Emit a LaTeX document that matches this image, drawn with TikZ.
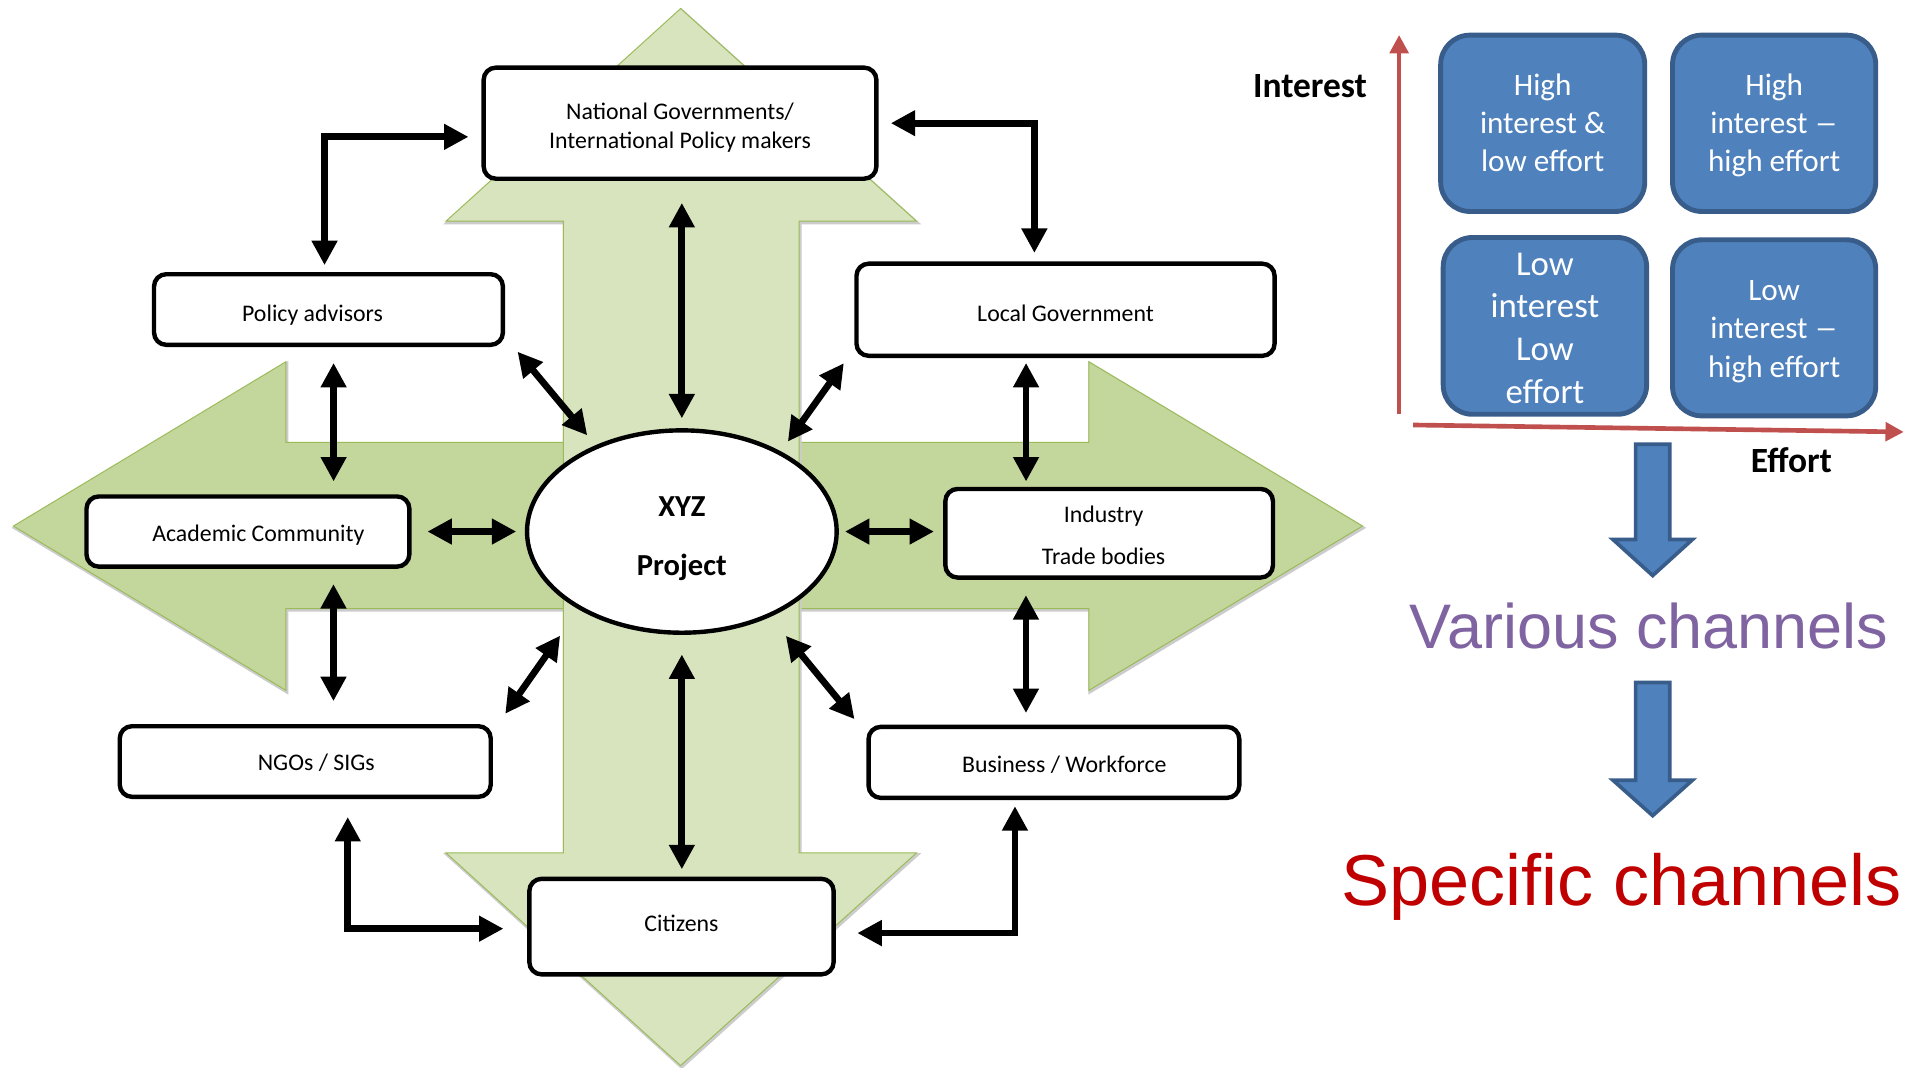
\documentclass[tikz,border=0pt]{standalone}
\usepackage{fontspec}
\usepackage{graphicx}
\setmainfont{Carlito}
\newfontfamily\arialfont{Liberation Sans}
\usetikzlibrary{arrows.meta,shapes.geometric,calc}

\definecolor{armlight}{HTML}{D7E4BD}
\definecolor{armdark}{HTML}{C3D69B}
\definecolor{armedge}{HTML}{9BBB59}
\definecolor{quadfill}{HTML}{4F81BD}
\definecolor{quadedge}{HTML}{385D8A}
\definecolor{axisred}{HTML}{C0504D}
\definecolor{varpurple}{HTML}{8064A2}
\definecolor{specred}{HTML}{C00000}

% lower a label inside its box without changing the box's reported size
\newcommand\droptext[2]{\raisebox{-#1}[\height][\depth]{#2}}
\newcommand\droprows[2]{\raisebox{-#1}[\height][\depth]{\begin{tabular}{@{}c@{}}#2\end{tabular}}}
% a slightly wider dash, as set in the grid labels
\newcommand\widedash{\scalebox{1.5}[1]{–}}

\begin{document}
\begin{tikzpicture}[x=1pt,y=-1pt,
  harm/.style={insert path={(11,430.5) -- (234,296) -- (234,362) -- (891,362) -- (891,296)
      -- (1115,430.5) -- (891,565) -- (891,498) -- (234,498) -- (234,565) -- cycle}},
  varm/.style={insert path={(557,7) -- (750,181) -- (654,181) -- (654,698) -- (750,698)
      -- (557,872) -- (365,698) -- (461,698) -- (461,181) -- (365,181) -- cycle}},
  armshadow/.style={draw=gray!40, fill=gray!55, line width=2.4pt, xshift=0.8pt, yshift=-1.4pt},
  stake/.style={draw=black, line width=3.6pt, fill=white, rounded corners=10pt,
      inner sep=0pt, font=\fontsize{19.5}{24}\selectfont},
  hub/.style={draw=black, line width=3.6pt, fill=white, ellipse, inner sep=0pt,
      font=\fontsize{25}{48}\selectfont\bfseries},
  link/.style={line width=5.5pt,
      {Triangle[length=20pt,width=20pt]}-{Triangle[length=20pt,width=20pt]}},
  quad/.style={draw=quadedge, fill=quadfill, line width=4pt, rounded corners=24pt,
      text=white, inner sep=0pt},
  axis/.style={draw=axisred, line width=3.8pt, -{Triangle[length=15pt,width=15pt]}},
  flow/.style={draw=quadedge, fill=quadfill, line width=3pt, line join=miter},
  axislbl/.style={font=\fontsize{29}{34}\selectfont\bfseries}
]
\useasboundingbox (0,0) rectangle (1568,874);
\fill[white] (0,0) rectangle (1568,874);

% four-way arrow behind the stakeholder map
\path[armshadow, harm];
\path[fill=armdark, draw=armedge, line width=0.8pt, harm];
\path[armshadow, varm];
\path[fill=armlight, draw=armedge, line width=0.8pt, varm];

% stakeholder boxes
\node[stake, minimum width=321.4pt, minimum height=90.9pt] (natgov) at (556.5,100.8)
  {\droprows{4pt}{National Governments/\\International Policy makers}};
\node[stake, minimum width=285.5pt, minimum height=57.8pt] (pol) at (268.8,253.3)
  {\droptext{5pt}{\hspace*{-26pt}Policy advisors}};
\node[stake, minimum width=342.2pt, minimum height=75.4pt] (local) at (872,253.5)
  {\droptext{2.5pt}{Local Government}};
\node[stake, minimum width=264.2pt, minimum height=57.4pt] (academic) at (202.9,435)
  {\droptext{3pt}{\hspace*{17pt}Academic Community}};
\node[hub, minimum width=253.4pt, minimum height=165.6pt] (xyz) at (558,435)
  {\droprows{2.4pt}{XYZ\\Project}};
\node[stake, minimum width=268.1pt, minimum height=72.5pt,
      font=\fontsize{19.5}{34}\selectfont] (industry) at (907.7,436.4)
  {\droprows{1.5pt}{Industry\\Trade bodies}\hspace*{9pt}};
\node[stake, minimum width=303.6pt, minimum height=57.8pt] (ngos) at (249.8,623.2)
  {\droptext{1pt}{\hspace*{18pt}NGOs / SIGs}};
\node[stake, minimum width=303.4pt, minimum height=58.1pt] (business) at (862.5,623.9)
  {\droptext{2pt}{\hspace*{17pt}Business / Workforce}};
\node[stake, minimum width=249pt, minimum height=78.2pt] (citizens) at (557.7,758.3)
  {\droptext{-3pt}{Citizens}};

% two-way links
\draw[link, shorten <=10.6pt, shorten >=5.6pt] ([yshift=-11.2pt]natgov.west) -| ([xshift=-3.2pt]pol.north);
\draw[link, shorten <=10pt, shorten >=7pt] (natgov.east) -| ([xshift=-25.5pt]local.north);
\draw[link, shorten <=18pt, shorten >=8pt] (natgov.south -| xyz.north) -- (xyz.north);
\draw[link, shorten <=5pt, shorten >=10.5pt] ([xshift=7pt]pol.south east) -- (xyz.135);
\draw[link, shorten <=5.2pt, shorten >=9.8pt] ([xshift=-5.5pt]local.south west) -- (xyz.39);
\draw[link, shorten <=13pt, shorten >=10.5pt] ([xshift=4.2pt]pol.south) -- ([xshift=4.2pt]pol.south |- academic.north);
\draw[link, shorten <=4pt, shorten >=4.3pt] ([xshift=-32.3pt]local.south) -- ([xshift=-32.3pt]local.south |- industry.north);
\draw[link, shorten <=13pt, shorten >=7pt] (academic.east) -- (academic.east -| xyz.west);
\draw[link, shorten <=5pt, shorten >=7.5pt] (xyz.east) -- (xyz.east -| industry.west);
\draw[link, shorten <=12.5pt, shorten >=18.7pt] ([xshift=70pt]academic.south) -- ([xshift=70pt]academic.south |- ngos.north);
\draw[link, shorten <=12.6pt, shorten >=9.5pt] ([xshift=-68.1pt]industry.south) -- ([xshift=-68.1pt]industry.south |- business.north);
\draw[link, shorten <=10.2pt, shorten >=26.2pt] ([xshift=4.2pt]ngos.north east) -- (xyz.217);
\draw[link, shorten <=20pt, shorten >=5.8pt] (xyz.-44) -- ([xshift=-6pt]business.north west);
\draw[link, shorten <=16pt, shorten >=6pt] (xyz.south) -- (xyz.south |- citizens.north);
\draw[link, shorten <=14.7pt, shorten >=19.4pt] ([xshift=34.8pt]ngos.south) |- ([yshift=-1.7pt]citizens.west);
\draw[link, shorten <=5pt, shorten >=17.6pt] ([xshift=-31.9pt]business.south) |- ([yshift=-5.3pt]citizens.east);

% interest / effort grid
\node[quad, minimum width=167pt, minimum height=144.3pt,
      font=\fontsize{25.5}{31.3}\selectfont] (hilo) at (1262.5,100.9)
  {\droprows{2pt}{High\\interest \&\\low effort}};
\node[quad, minimum width=166.3pt, minimum height=144.3pt,
      font=\fontsize{25.5}{31.3}\selectfont] (hihi) at (1451.9,100.9)
  {\droprows{2pt}{High\\interest \widedash\\high effort}};
\node[quad, minimum width=166.5pt, minimum height=144.7pt,
      font=\fontsize{28.5}{35}\selectfont] (lolo) at (1264.3,266.7)
  {\droprows{4pt}{Low\\interest\\Low\\effort}};
\node[quad, minimum width=166.3pt, minimum height=144.1pt,
      font=\fontsize{25.5}{31.5}\selectfont] (lohi) at (1451.9,268.3)
  {\droprows{2.5pt}{Low\\interest \widedash\\high effort}};

\coordinate (ybot) at (1145,338.8);
\coordinate (ytop) at (1145,28.6);
\coordinate (xleft) at (1156.5,347.8);
\coordinate (xright) at (1558,353.5);
\draw[axis] (ybot) -- (ytop);
\draw[axis] (xleft) -- (xright);
\node[axislbl] (interestlbl) at (1072.1,70.5) {Interest};
\node[axislbl] (effortlbl) at (1466,377) {Effort};

% narrowing down the channels
\path[flow] (1338.5,363.5) -- (1366.5,363.5) -- (1366.5,441.5) -- (1385,441.5)
  -- (1352.5,471) -- (1320,441.5) -- (1338.5,441.5) -- cycle;
\path[flow] (1338.5,558.5) -- (1366.5,558.5) -- (1366.5,638.5) -- (1385,638.5)
  -- (1352.5,667.5) -- (1320,638.5) -- (1338.5,638.5) -- cycle;
\node[anchor=base, font=\arialfont\fontsize{51.5}{60}\selectfont, text=varpurple]
  (various) at (1349.5,530.7) {Various channels};
\node[anchor=base, font=\arialfont\fontsize{59}{70}\selectfont, text=specred]
  (specific) at (1327,741) {Specific channels};
\end{tikzpicture}
\end{document}
